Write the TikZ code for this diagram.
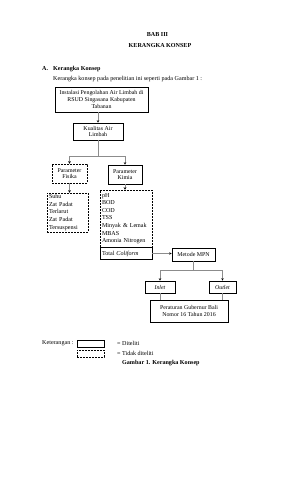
\documentclass[tikz,border=0pt]{standalone}
\usepackage{fontspec}
\setmainfont{Liberation Serif}
\usetikzlibrary{arrows.meta}
\begin{document}
\begin{tikzpicture}[x=1pt,y=-1pt,
  box/.style={draw=black, line width=0.6pt, inner sep=1pt, align=center, font=\fontsize{5.9}{6.7}\selectfont},
  dbox/.style={box, line width=0.5pt, dash pattern=on 2pt off 1pt},
  lbox/.style={box, align=left, inner xsep=2pt, font=\fontsize{6.1}{7.6}\selectfont},
  conn/.style={draw=black!45, line width=0.5pt},
  arr/.style={conn, -{Stealth[length=2.5pt,width=2.5pt,color=black]}},
  txt/.style={inner sep=0, font=\fontsize{6.1}{7}\selectfont},
  btxt/.style={txt, font=\fontsize{6.1}{7}\selectfont\bfseries}]
\useasboundingbox[fill=white] (0,0) rectangle (305,480);

% headings
\node[btxt] (bab) at (157.5,34) {BAB III};
\node[btxt] (judul) at (160,46) {KERANGKA KONSEP};
\node[btxt, anchor=west] (secA) at (42,69) {A.};
\node[btxt, anchor=west] (secT) at (53,69) {Kerangka Konsep};
\node[txt, anchor=west] (intro) at (53,79) {Kerangka konsep pada penelitian ini seperti pada Gambar 1 :};

% boxes
\node[box, minimum width=93pt, minimum height=25pt] (inst) at (101.5,99.5) {Instalasi Pengolahan Air Limbah di\\RSUD Singasana Kabupaten\\Tabanan};
\node[box, minimum width=50pt, minimum height=17pt] (kual) at (98,131.5) {Kualitas Air\\Limbah};
\node[dbox, minimum width=35pt, minimum height=19pt] (fis) at (69.5,173.5) {Parameter\\Fisika};
\node[box, minimum width=34pt, minimum height=19pt] (kim) at (125,174.5) {Parameter\\Kimia};
\node[lbox, line width=0.5pt, dash pattern=on 2pt off 1pt, minimum width=41pt, minimum height=39pt, text width=37pt] (fislist) at (67.5,212.5) {Suhu\\Zat Padat\\Terlarut\\Zat Padat\\Tersuspensi};
\node[lbox, line width=0.5pt, dash pattern=on 2pt off 1pt, minimum width=52pt, minimum height=57pt, text width=48pt] (kimlist) at (126,218.5) {pH\\BOD\\COD\\TSS\\Minyak \& Lemak\\MBAS\\Amonia Nitrogen};
\node[lbox, minimum width=52pt, minimum height=12.5pt, text width=48pt] (tc) at (126,253.5) {Total \textit{Coliform}};
\node[box, minimum width=43pt, minimum height=13pt] (mpn) at (193.5,254.5) {Metode MPN};
\node[box, minimum width=30pt, minimum height=12pt] (inlet) at (160,287) {\textit{Inlet}};
\node[box, minimum width=27pt, minimum height=12pt] (outlet) at (222.5,287) {\textit{Outlet}};
\node[box, minimum width=78pt, minimum height=22pt] (per) at (189,311) {Peraturan Gubernur Bali\\Nomor 16 Tahun 2016};

% connectors
\draw[arr] (inst.south -| kual) -- (kual.north);
\coordinate (s1) at (98,156);
\draw[conn] (kual.south) -- (s1);
\draw[arr] (s1) -| (fis.north);
\draw[arr] (s1) -| (kim.north);
\draw[arr] (fis.south) -- (fis.south |- fislist.north);
\draw[arr] (kim.south) -- (kim.south |- kimlist.north);
\draw[arr] (tc.east) -- (tc.east -| mpn.west);
\coordinate (s2) at (193.5,270);
\draw[conn] (mpn.south) -- (s2);
\draw[arr] (s2) -| (inlet.north);
\draw[arr] (s2) -| (outlet.north);
\draw[conn] (inlet.south) -- (inlet.south |- per.north);
\draw[conn] (outlet.south) -- (outlet.south |- per.north);

% legend
\node[txt, anchor=west] (ket) at (42,343.5) {Keterangan :};
\node[box, minimum width=27pt, minimum height=7pt] (legs) at (90.5,343.5) {};
\node[dbox, minimum width=27pt, minimum height=7pt] (legd) at (90.5,353.5) {};
\node[txt, anchor=west] (legst) at (117,343.5) {= Diteliti};
\node[txt, anchor=west] (legdt) at (117,353.5) {= Tidak diteliti};
\node[btxt, anchor=west] (cap) at (122,363.5) {Gambar 1. Kerangka Konsep};
\end{tikzpicture}
\end{document}
